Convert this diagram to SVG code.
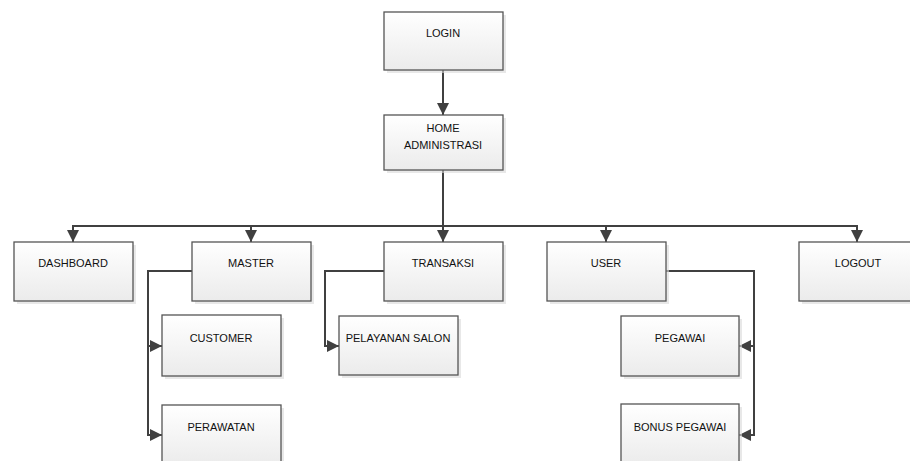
<svg xmlns="http://www.w3.org/2000/svg" width="910" height="461" viewBox="0 0 910 461">
<defs>
<linearGradient id="g" x1="0" y1="0" x2="0" y2="1">
<stop offset="0" stop-color="#ffffff"/>
<stop offset="1" stop-color="#ebebeb"/>
</linearGradient>
<marker id="ah" viewBox="0 0 10 10" refX="10" refY="5" markerWidth="12" markerHeight="12" markerUnits="userSpaceOnUse" orient="auto">
<path d="M0,0 L10,5 L0,10 Z" fill="#404040"/>
</marker>
</defs>
<style>
.sh{fill:#d9d9d9;stroke:none;opacity:0.6}
.bx{fill:url(#g);stroke:#555555;stroke-width:1.3}
.t{font-family:"Liberation Sans",Arial,sans-serif;font-size:11px;fill:#111111;text-anchor:middle}
.c{fill:none;stroke:#404040;stroke-width:2}
.a{marker-end:url(#ah)}
</style>
<rect width="910" height="461" fill="#ffffff"/>
<g id="connectors">
<line class="c a" x1="443" y1="70" x2="443" y2="115"/>
<line class="c" x1="443" y1="170" x2="443" y2="226"/>
<line class="c" x1="73" y1="226" x2="857" y2="226"/>
<line class="c a" x1="73" y1="225" x2="73" y2="242"/>
<line class="c a" x1="251" y1="225" x2="251" y2="242"/>
<line class="c a" x1="443" y1="225" x2="443" y2="242"/>
<line class="c a" x1="606" y1="225" x2="606" y2="242"/>
<line class="c a" x1="857" y1="225" x2="857" y2="242"/>
<polyline class="c" points="192,271 148,271 148,435"/>
<line class="c a" x1="147" y1="346" x2="162" y2="346"/>
<line class="c a" x1="147" y1="435" x2="162" y2="435"/>
<polyline class="c a" points="384,271 325,271 325,346 339,346"/>
<polyline class="c" points="666,271 754,271 754,435"/>
<line class="c a" x1="755" y1="346" x2="739" y2="346"/>
<line class="c a" x1="755" y1="435" x2="739" y2="435"/>
</g>
<g id="login"><rect class="sh" x="387" y="15" width="119" height="58"/><rect class="bx" x="384" y="12" width="119" height="58"/><text class="t" x="443" y="37">LOGIN</text></g>
<g id="home"><rect class="sh" x="387" y="118" width="119" height="55"/><rect class="bx" x="384" y="115" width="119" height="55"/><text class="t" x="443" y="132">HOME</text><text class="t" x="443" y="149">ADMINISTRASI</text></g>
<g id="dashboard"><rect class="sh" x="17" y="245" width="119" height="59"/><rect class="bx" x="14" y="242" width="119" height="59"/><text class="t" x="73" y="267">DASHBOARD</text></g>
<g id="master"><rect class="sh" x="195" y="245" width="119" height="59"/><rect class="bx" x="192" y="242" width="119" height="59"/><text class="t" x="251" y="267">MASTER</text></g>
<g id="transaksi"><rect class="sh" x="387" y="245" width="119" height="59"/><rect class="bx" x="384" y="242" width="119" height="59"/><text class="t" x="443" y="267">TRANSAKSI</text></g>
<g id="user"><rect class="sh" x="550" y="245" width="119" height="59"/><rect class="bx" x="547" y="242" width="119" height="59"/><text class="t" x="606" y="267">USER</text></g>
<g id="logout"><rect class="sh" x="802" y="245" width="119" height="59"/><rect class="bx" x="799" y="242" width="119" height="59"/><text class="t" x="858" y="267">LOGOUT</text></g>
<g id="customer"><rect class="sh" x="165" y="318" width="119" height="61"/><rect class="bx" x="162" y="315" width="119" height="61"/><text class="t" x="221" y="342">CUSTOMER</text></g>
<g id="perawatan"><rect class="sh" x="165" y="408" width="119" height="61"/><rect class="bx" x="162" y="405" width="119" height="61"/><text class="t" x="221" y="431">PERAWATAN</text></g>
<g id="pelayanan"><rect class="sh" x="342" y="319" width="119" height="59"/><rect class="bx" x="339" y="316" width="119" height="59"/><text class="t" x="398" y="342">PELAYANAN SALON</text></g>
<g id="pegawai"><rect class="sh" x="624" y="319" width="118" height="60"/><rect class="bx" x="621" y="316" width="118" height="60"/><text class="t" x="680" y="342">PEGAWAI</text></g>
<g id="bonus"><rect class="sh" x="624" y="407" width="118" height="61"/><rect class="bx" x="621" y="404" width="118" height="61"/><text class="t" x="680" y="431">BONUS PEGAWAI</text></g>
</svg>
